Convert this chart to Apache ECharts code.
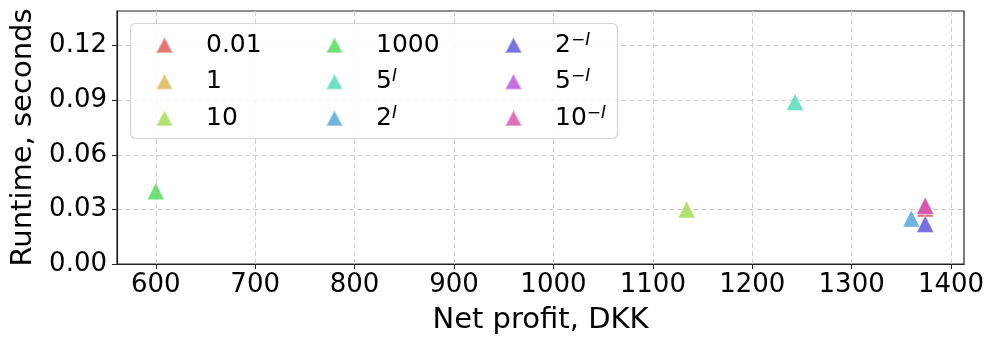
<!DOCTYPE html>
<html>
<head>
<meta charset="utf-8">
<script src="https://cdn.jsdelivr.net/npm/echarts@6/dist/echarts.min.js"></script>
<style>
html,body{margin:0;padding:0;background:#fff;}
#chart{width:997px;height:347px;}
</style>
</head>
<body>
<div id="chart"></div>
<script>
// ---- data ----
const seriesNames = ['0.01', '1', '10', '1000', '5^I', '2^I', '2^-I', '5^-I', '10^-I'];
const netProfit   = [1374, 1374, 1134, 600, 1243, 1360, 1374, 1374, 1374];
const runtimeSec  = [0.0305, 0.032, 0.030, 0.040, 0.089, 0.025, 0.022, 0.032, 0.032];
const xTicks = [600, 700, 800, 900, 1000, 1100, 1200, 1300, 1400];
const yTicks = [0, 0.03, 0.06, 0.09, 0.12];
const colors = ['#db5f57', '#dbb757', '#a7db57', '#57db5f', '#57dbb7', '#57a7db', '#5f57db', '#b757db', '#db57a7'];
const legendColumns = [['0.01', '1', '10'], ['1000', '5^I', '2^I'], ['2^-I', '5^-I', '10^-I']];

const FONT = 'DejaVu Sans';

function legendLabel(name) {
  const m = name.match(/^(\d+)\^(-?)I$/);
  if (!m) return '{b|' + name + '}';
  return '{b|' + m[1] + '}{s|' + (m[2] ? '\u2212' : '') + '}{i|I}';
}

const series = seriesNames.map((n, k) => ({
  name: n,
  type: 'scatter',
  symbol: 'triangle',
  symbolSize: 17,
  itemStyle: { color: colors[k], opacity: 0.85, borderColor: 'rgba(255,255,255,0.45)', borderWidth: 1 },
  data: [[netProfit[k], runtimeSec[k]]],
  z: 2 + k
}));

const legendLefts = [155, 325, 504];
const legends = legendColumns.map((col, c) => ({
  data: col,
  orient: 'vertical',
  left: legendLefts[c],
  top: 32,
  itemWidth: 17,
  itemHeight: 16,
  itemGap: 10.5,
  padding: 0,
  z: 5,
  formatter: legendLabel,
  textStyle: {
    fontFamily: FONT,
    fontSize: 25,
    color: '#000',
    padding: [0, 0, 0, 28],
    lineHeight: 26,
    rich: {
      b: { fontFamily: FONT, fontSize: 25, color: '#000', lineHeight: 26 },
      s: { fontFamily: FONT, fontSize: 17, color: '#000', verticalAlign: 'top', lineHeight: 17 },
      i: { fontFamily: FONT, fontSize: 17, fontStyle: 'italic', color: '#000', verticalAlign: 'top', lineHeight: 17 }
    }
  }
}));

const chart = echarts.init(document.getElementById('chart'));
chart.setOption({
  animation: false,
  backgroundColor: '#fff',
  color: colors,
  grid: { left: 117, right: 33, top: 11, bottom: 83, show: true, borderColor: '#222', borderWidth: 1.2, backgroundColor: 'transparent' },
  legend: legends,
  graphic: [{
    type: 'rect',
    z: 3,
    shape: { x: 130.5, y: 23.5, width: 487, height: 115, r: 5 },
    style: { fill: 'rgba(255,255,255,0.85)', stroke: '#d4d4d4', lineWidth: 1.2 }
  }],
  xAxis: {
    type: 'value',
    min: 561,
    max: 1413,
    name: 'Net profit, DKK',
    nameLocation: 'middle',
    nameGap: 42,
    nameTextStyle: { fontFamily: FONT, fontSize: 29, color: '#000' },
    axisLine: { show: true, lineStyle: { color: '#222', width: 1.2 } },
    axisTick: { show: true, length: 5, customValues: xTicks, lineStyle: { color: '#222' } },
    axisLabel: { customValues: xTicks, fontFamily: FONT, fontSize: 26, color: '#000', margin: 8, formatter: v => String(v) },
    splitLine: { show: true, customValues: xTicks, lineStyle: { color: '#cfcfcf', type: [5, 3], width: 1 } }
  },
  yAxis: {
    type: 'value',
    min: 0,
    max: 0.139,
    name: 'Runtime, seconds',
    nameLocation: 'middle',
    nameRotate: 90,
    nameGap: 78,
    nameTextStyle: { fontFamily: FONT, fontSize: 29, color: '#000' },
    axisLine: { show: true, lineStyle: { color: '#222', width: 1.2 } },
    axisTick: { show: true, length: 5, customValues: yTicks, lineStyle: { color: '#222' } },
    axisLabel: { customValues: yTicks, fontFamily: FONT, fontSize: 26, color: '#000', margin: 10, formatter: v => v.toFixed(2) },
    splitLine: { show: true, customValues: yTicks, lineStyle: { color: '#cfcfcf', type: [5, 3], width: 1 } }
  },
  series: series
});
</script>
</body>
</html>
